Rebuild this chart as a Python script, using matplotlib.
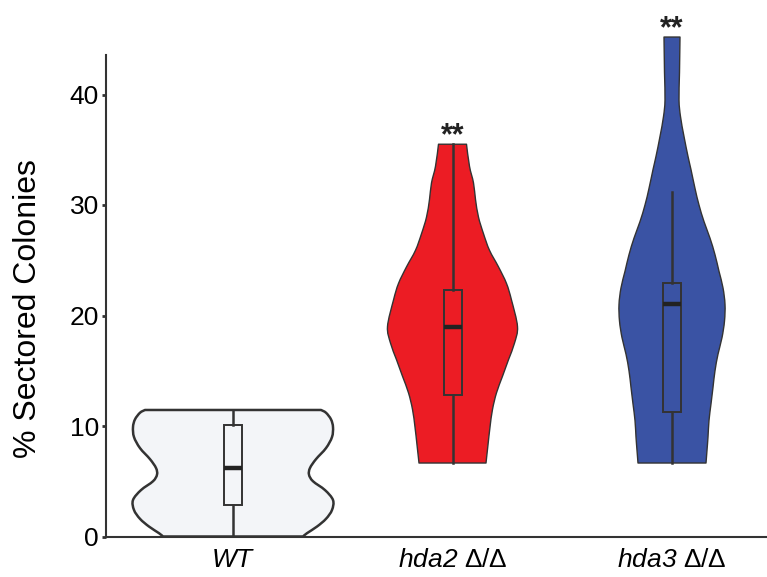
import numpy as np
import matplotlib.pyplot as plt
from matplotlib.path import Path
from matplotlib.patches import PathPatch

plt.rcParams['font.family'] = ['Liberation Sans', 'DejaVu Sans']
plt.rcParams['mathtext.fontset'] = 'custom'
plt.rcParams['mathtext.it'] = 'Liberation Sans:italic'
plt.rcParams['mathtext.rm'] = 'Liberation Sans:italic'

# groups and labels
groups = ['WT', 'hda2', 'hda3']
tick_labels = [r'$WT$', r'$hda2$ Δ/Δ', r'$hda3$ Δ/Δ']
colors = ['#f3f5f8', '#ec1c24', '#3a53a4']
signif = ['', '**', '**']

# violin outlines: (value, half width in px of the original)
wt_vals = [0.0, 0.3, 0.9, 1.6, 2.4, 3.3, 4.2, 5.0, 5.6, 6.2, 7.0, 8.0, 9.0, 9.9, 10.6, 11.2, 11.45]
wt_half = [70, 74, 84, 93, 99, 100, 92, 80, 76, 77, 83, 93, 99, 100, 98, 93, 88]

hda2_vals = [6.65, 8.3, 9.9, 11.5, 13.0, 14.5, 16.0, 17.5, 19.0, 21.4, 22.9, 24.4, 25.9, 27.4,
             28.9, 30.5, 32.0, 33.5, 35.5]
hda2_half = [33.5, 35.5, 37.5, 40, 44, 50, 56, 62, 65, 59, 54, 46, 37, 31, 26, 23, 21, 17, 14]

hda3_vals = [6.65, 7.8, 9.0, 10.5, 12.0, 13.5, 15.0, 16.5, 18.0, 19.5, 21.0, 22.5, 24.0, 25.5,
             27.0, 28.5, 30.0, 31.5, 33.2, 34.4, 36.2, 38.0, 39.5, 42.0, 45.2]
hda3_half = [34, 35, 36, 37, 39, 41, 43, 46, 50, 52.5, 53, 51, 47, 43, 38, 32, 27, 23, 19,
             16, 12, 8.5, 7, 7.5, 8]

violin_vals = [wt_vals, hda2_vals, hda3_vals]
violin_half = [wt_half, hda2_half, hda3_half]

# box plot stats
box_q1 = [2.85, 12.8, 11.3]
box_med = [6.2, 19.0, 21.0]
box_q3 = [10.1, 22.3, 22.9]
whisk_lo = [0.0, 6.65, 6.65]
whisk_hi = [11.45, 35.5, 31.2]

PX = 219.5  # px per category unit in the original


def side_curve(pts):
    # catmull-rom through the outline points, as cubic bezier pieces
    pts = np.asarray(pts)
    ext = np.vstack([pts[0], pts, pts[-1]])
    verts, codes = [], []
    for k in range(len(pts) - 1):
        p0, p1, p2, p3 = ext[k], ext[k + 1], ext[k + 2], ext[k + 3]
        c1 = p1 + (p2 - p0) / 6
        c2 = p2 - (p3 - p1) / 6
        verts += [c1, c2, p2]
        codes += [Path.CURVE4] * 3
    return verts, codes


def violin_patch(pos, vals, half, **kw):
    v = np.array(vals)
    h = np.array(half) / PX
    right = np.column_stack([pos + h, v])
    left = np.column_stack([pos - h, v])[::-1]
    verts, codes = [right[0]], [Path.MOVETO]
    rv, rc = side_curve(right)
    verts += rv
    codes += rc
    verts.append(left[0])
    codes.append(Path.LINETO)
    lv, lc = side_curve(left)
    verts += lv
    codes += lc
    verts.append(right[0])
    codes.append(Path.CLOSEPOLY)
    return PathPatch(Path(verts, codes), **kw)


fig = plt.figure(figsize=(7.67, 5.77), dpi=100)
ax = fig.add_axes([106 / 767, 1 - 536.5 / 577, 661 / 767, 536.5 / 577])

edge = '#333333'
for i, (v, h) in enumerate(zip(violin_vals, violin_half)):
    lw = 1.8 if i == 0 else 1.0
    p = violin_patch(i, v, h, facecolor=colors[i], edgecolor=edge, linewidth=lw,
                     joinstyle='round', zorder=1, clip_on=False)
    ax.add_patch(p)

stats = []
for i in range(3):
    stats.append(dict(med=box_med[i], q1=box_q1[i], q3=box_q3[i],
                      whislo=whisk_lo[i], whishi=whisk_hi[i], fliers=[]))
ax.bxp(stats, positions=[0, 1, 2], widths=18 / PX, showcaps=False, patch_artist=True,
       boxprops=dict(facecolor='none', edgecolor=edge, linewidth=1.4),
       whiskerprops=dict(color=edge, linewidth=1.8),
       medianprops=dict(color='#222222', linewidth=3.2, solid_capstyle='butt'),
       manage_ticks=False, zorder=3)

star_y = [None, hda2_vals[-1], hda3_vals[-1]]
for i, s in enumerate(signif):
    if s:
        ax.text(i, star_y[i], s, ha='center', va='baseline',
                fontsize=22, fontweight='bold', color='#222222', clip_on=False)

ax.set_xlim((106 - 233) / PX, (767 - 233) / PX)
ax.set_ylim(0, 536.5 / 11.05)

ax.spines['top'].set_visible(False)
ax.spines['right'].set_visible(False)
ax.spines['left'].set_bounds(0, 43.6)
for sp in ['left', 'bottom']:
    ax.spines[sp].set_linewidth(1.5)
    ax.spines[sp].set_color(edge)

ax.set_yticks([0, 10, 20, 30, 40])
ax.tick_params(axis='y', length=3, width=2, color=edge, pad=2, labelsize=19)
ax.set_xticks([0, 1, 2])
ax.set_xticklabels(tick_labels)
ax.tick_params(axis='x', length=0, pad=8, labelsize=19)

ax.set_ylabel('% Sectored Colonies', fontsize=23)
ax.yaxis.set_label_coords(-0.095, 0.425)

fig.savefig('out.png', dpi=100)
